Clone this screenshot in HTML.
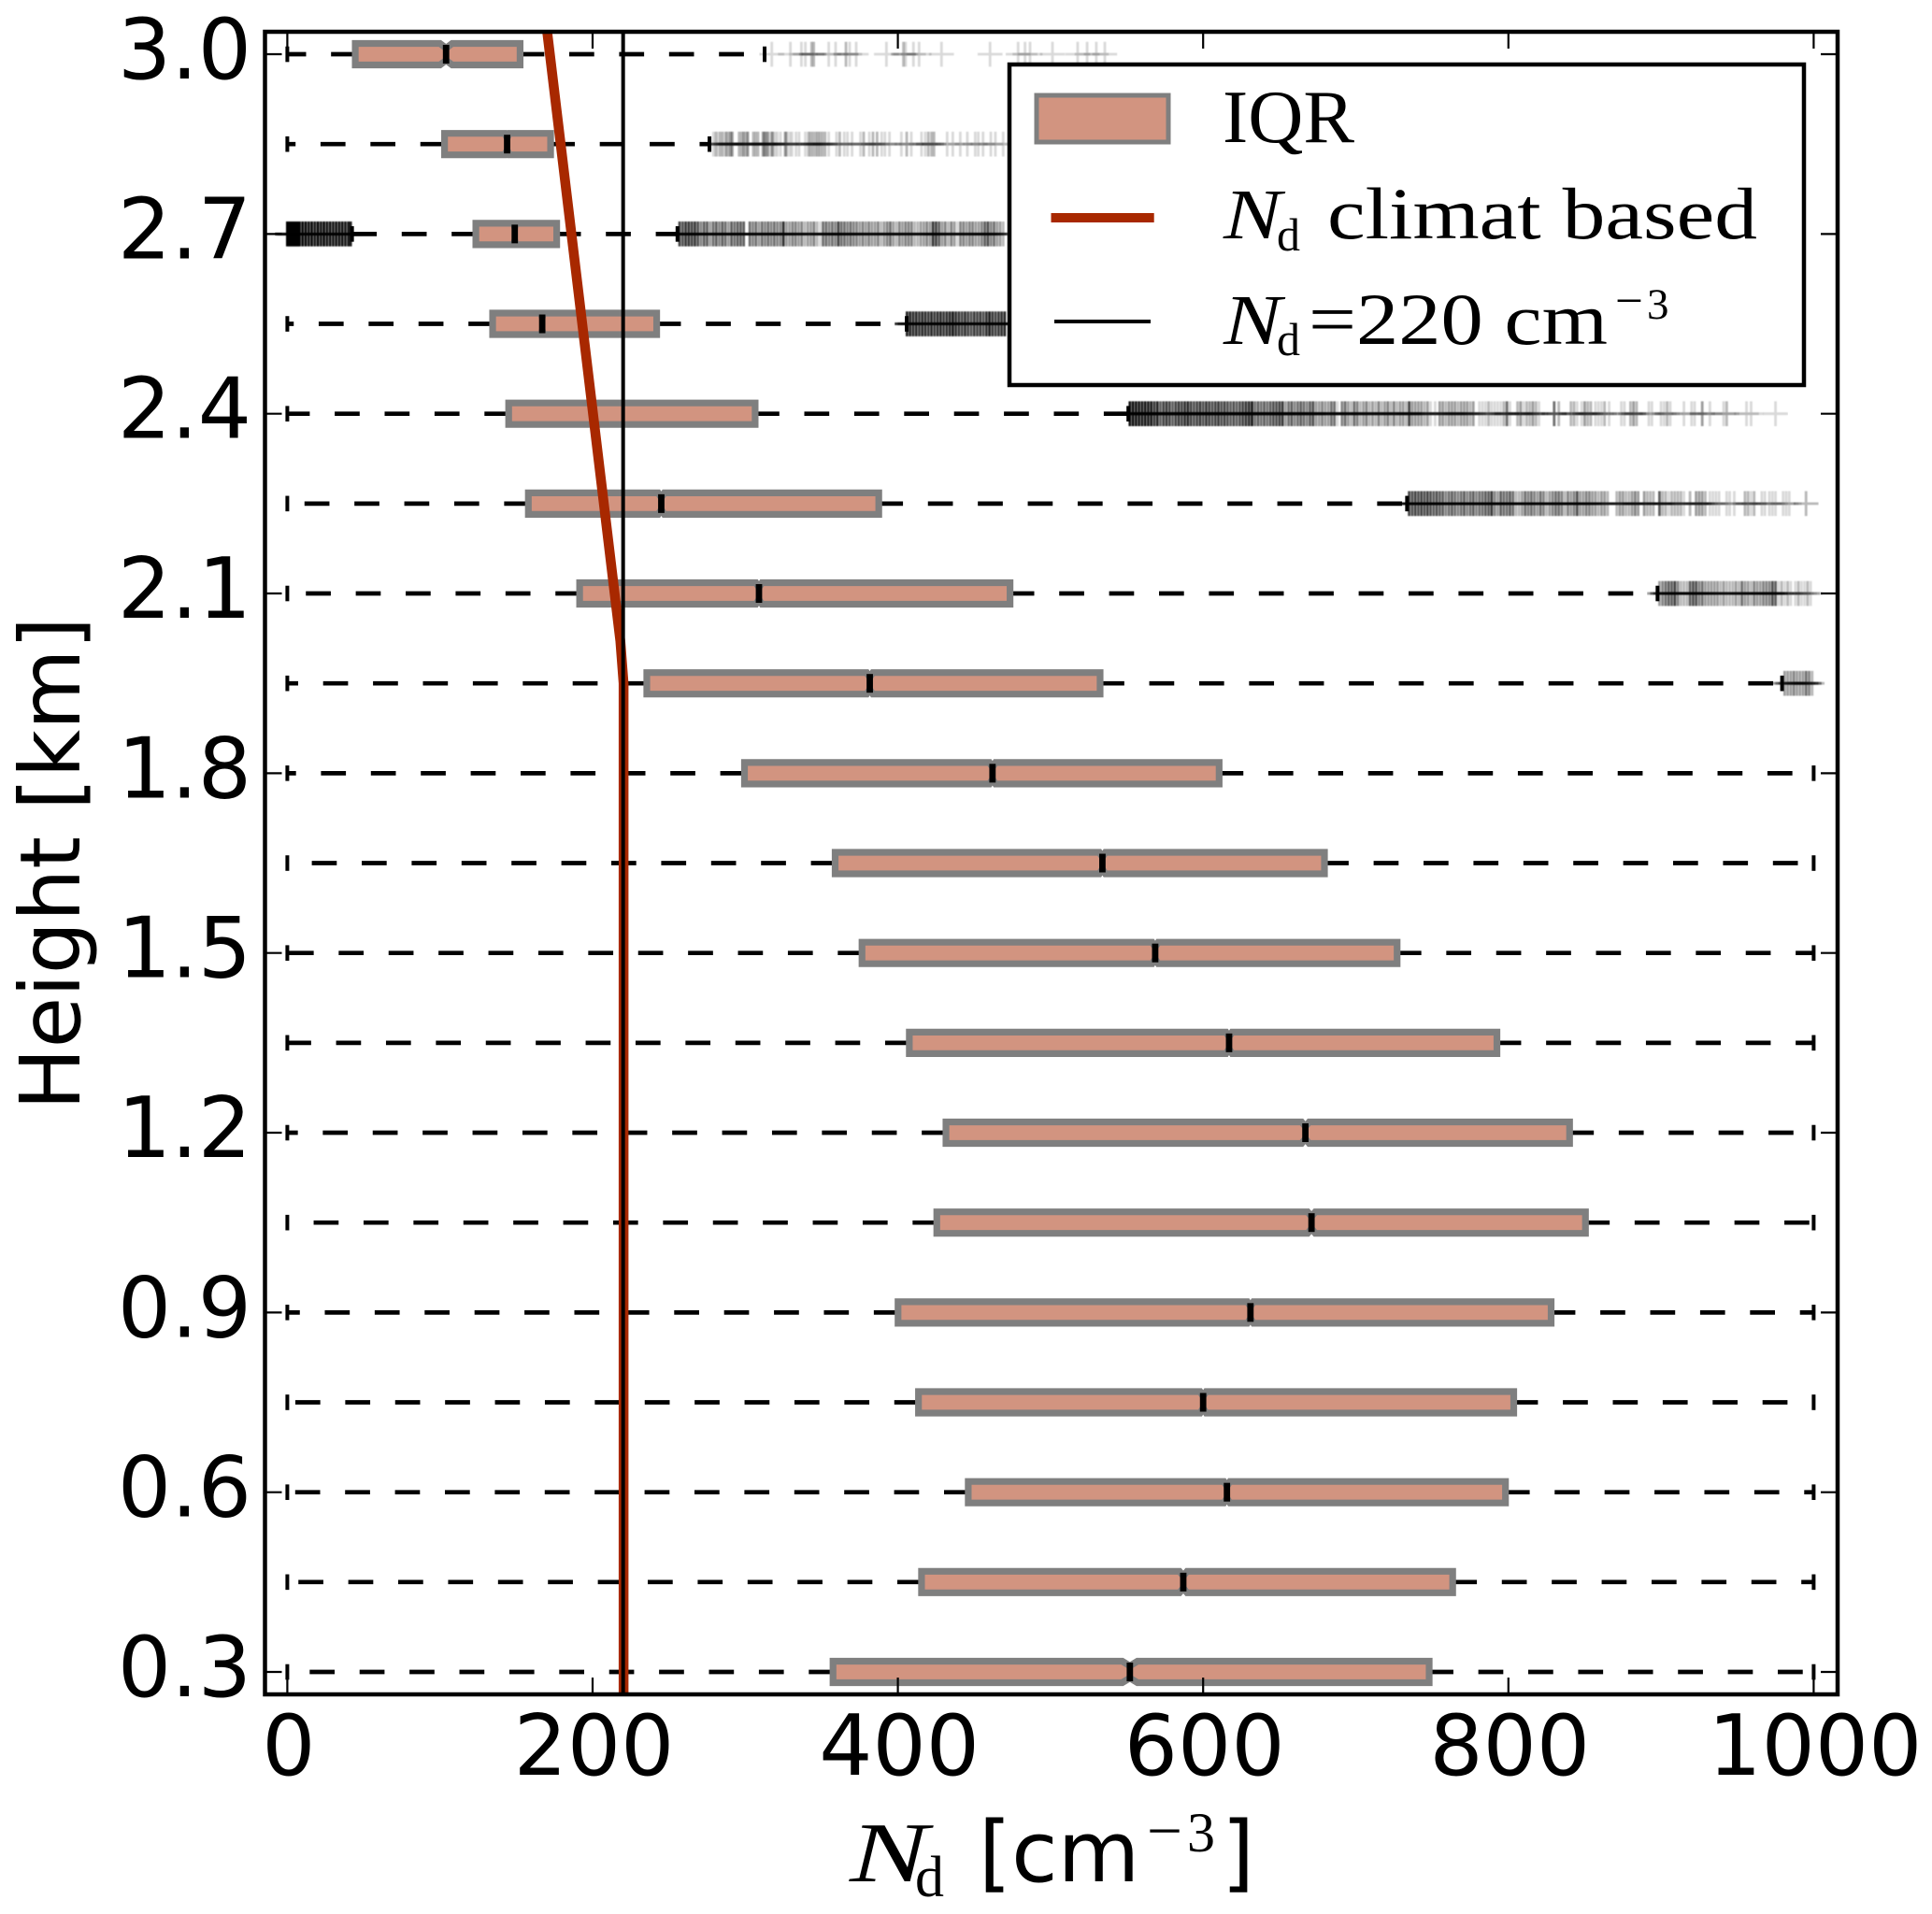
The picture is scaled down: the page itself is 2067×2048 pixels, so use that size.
<!DOCTYPE html>
<html lang="en">
<head>
<meta charset="utf-8">
<title>Nd box plot by height</title>
<style>
html,body{margin:0;padding:0;background:#fff;width:2067px;height:2048px;overflow:hidden}
svg{display:block}
.sans{font-family:"DejaVu Sans","Liberation Sans",sans-serif;fill:#000}
.serif{font-family:"Liberation Serif",serif;fill:#000}
.ital{font-family:"Liberation Serif",serif;font-style:italic;fill:#000}
</style>
</head>
<body>
<svg id="chart" xmlns="http://www.w3.org/2000/svg" width="2067" height="2048" viewBox="0 0 2067 2048">
  <rect width="2067" height="2048" fill="#fff"/>
  <defs>
    <clipPath id="plot-clip"><rect x="283.5" y="34" width="1682.5" height="1779"/></clipPath>
    <filter id="soften" x="0" y="-20%" width="100%" height="140%" filterUnits="objectBoundingBox"><feGaussianBlur stdDeviation="0.45"/></filter>
  </defs>
  <g id="marks" clip-path="url(#plot-clip)"></g>
  <g id="axes"></g>
  <text class="sans" font-size="89" transform="translate(85,1188) rotate(-90)" textLength="528" lengthAdjust="spacingAndGlyphs">Height [km]</text>
  <g>
    <text class="ital" x="909" y="2013" font-size="91" textLength="84" lengthAdjust="spacingAndGlyphs">N</text>
    <text class="serif" x="979" y="2029" font-size="62">d</text>
    <text class="sans" x="1047" y="2013" font-size="90">[cm</text>
    <text class="serif" x="1227" y="1981" font-size="66" textLength="38" lengthAdjust="spacingAndGlyphs">−</text>
    <text class="serif" x="1270" y="1981" font-size="60">3</text>
    <text class="sans" x="1307" y="2013" font-size="90">]</text>
  </g>
  <g>
    <rect x="1080" y="69" width="850" height="343" fill="#fff" stroke="#000" stroke-width="4.5"/>
    <rect x="1109" y="102" width="141" height="50" fill="#d29480" stroke="#7f7f7f" stroke-width="5"/>
    <text class="serif" x="1308" y="152" font-size="80" textLength="141" lengthAdjust="spacingAndGlyphs">IQR</text>
    <line x1="1124.5" x2="1234.7" y1="233" y2="233" stroke="#a82800" stroke-width="10"/>
    <g>
      <text class="ital" x="1309" y="255" font-size="76" textLength="62" lengthAdjust="spacingAndGlyphs">N</text>
      <text class="serif" x="1366" y="268" font-size="50">d</text>
      <text class="serif" x="1420" y="255" font-size="78" textLength="460" lengthAdjust="spacingAndGlyphs">climat based</text>
    </g>
    <line x1="1128" x2="1231" y1="344" y2="344" stroke="#000" stroke-width="4"/>
    <g>
      <text class="ital" x="1309" y="368" font-size="76" textLength="62" lengthAdjust="spacingAndGlyphs">N</text>
      <text class="serif" x="1366" y="380" font-size="50">d</text>
      <text class="serif" x="1400" y="368" font-size="78" textLength="320" lengthAdjust="spacingAndGlyphs">=220 cm</text>
      <text class="serif" x="1728" y="339" font-size="52" textLength="30" lengthAdjust="spacingAndGlyphs">−</text>
      <text class="serif" x="1762" y="341" font-size="47">3</text>
    </g>
  </g>
</svg>
<script>
const heights=[0.3,0.45,0.6,0.75,0.9,1.05,1.2,1.35,1.5,1.65,1.8,1.95,2.1,2.25,2.4,2.55,2.7,2.85,3.0];
const q1Values=[358,416,446.6,414,400.6,426,432,408,377,359.4,300,236,192,158.4,145.5,135,124,103.5,45];
const medianValues=[552,587,615.6,600,631,671,667,617,568.6,534,462,381.6,309,245,200.3,167,149,144,104];
const q3Values=[747.6,763,797.6,803,827.5,850,839.6,792,726.6,679,610,532,473,387,306,241.5,176,172,152];
const whiskerLow=[0,0,0,0,0,0,0,0,0,0,0,0,0,0,0,0,42.4,0,0];
const whiskerHigh=[1000,1000,1000,1000,1000,1000,1000,1000,1000,1000,1000,979.3,897.7,733.6,551,405.8,255.6,276.6,312.7];
const notchHalfWidth=[5,2.5,2,2,2,2.5,2.5,2,2,2,2,2,2,2,0.5,0.5,0.5,1.5,4];

const climatHeights=[0.2,1.95,2.02,3.1];
const climatValues=[220.3,220.3,218.2,167.3];
const referenceNd=220;

const xTicks=[0,200,400,600,800,1000];
const yTicks=[0.3,0.6,0.9,1.2,1.5,1.8,2.1,2.4,2.7,3.0];

const fliers3p0=[317.4,329.6,336.8,339.4,343.5,344.9,354.7,359.2,366,368.4,372.7,392.5,403.7,405.1,410.2,413.9,428.6,460.4,478.8,483.3,486.6,501.3,517.8,524,530,535.6];
const counts3p0=[1,1,1,1,2,2,1,1,2,1,1,1,2,1,1,1,1,1,1,1,1,1,1,1,1,1];

const fliers2p85=[279.2,280.8,282.3,283.7,285.3,287.4,289,290.4,291.5,296,297.6,299,300.6,301.7,305.3,306.8,308.4,311.5,312.3,313.5,314.9,317,318,319.6,321,323.1,326.2,327.2,329.2,330.6,333.3,335.3,339.4,341.5,342.9,344.5,346.2,347.6,349,350.6,352.3,354.7,359.8,361.9,364.9,367,370,375.5,377.6,381.3,383.7,386.4,389.4,391.5,394.5,402.3,405.8,408.8,415.5,418,420,422.1,423.7,432.3,436,440.9,445.5,450.7,452.7,455.8,460.9,463.9,469];
const counts2p85=[1,2,1,2,2,3,2,3,3,2,2,3,2,3,2,2,2,2,3,3,3,2,3,1,1,1,3,2,1,1,1,1,1,2,2,2,2,2,2,2,2,1,1,2,1,1,1,1,2,1,2,2,1,1,1,1,2,1,1,1,2,2,2,1,1,1,1,1,1,1,1,1,1];

const fliers2p7Low=[0,1,2,3,4,5,6,7,8,10,12,14,16,18,20,22,24,26,28,30,32,34,36,38,40,41.5];
const counts2p7Low=[30,30,30,30,30,30,30,25,25,20,20,16,20,14,20,15,20,15,16,14,16,15,16,14,14,12];

const fliers2p7=[257,259,261,263,265,267,269,271,273,275,277,279,281,283,285,287,289,291,293,295,297,299,303,305,307,309,311,313,315,317,319,321,323,325,327,329,331,333,335,337,339,341,343,345,347,349,351,353,355,357,359,361,363,365,367,369,371,373,375,377,379,381,383,385,387,389,391,393,395,397,399,401,403,405,407,409,411,413,415,417,419,421,423,425,427,429,431,433,435,437,439,441,443,445,447,449,451,453,455,457,459,461,463,465,467,469];
const counts2p7=[8,7,9,9,8,9,7,4,6,6,3,5,6,4,6,5,3,6,5,6,6,6,5,4,5,3,5,4,5,4,5,4,4,10,3,3,4,4,3,4,2,3,3,4,2,1,5,5,4,5,4,8,5,5,4,5,4,4,3,4,3,4,3,3,4,2,3,4,5,3,2,4,3,4,4,4,2,2,3,3,4,3,9,8,6,3,4,2,4,3,1,4,4,3,4,4,3,3,4,6,7,4,5,3,3,2];

const fliers2p55=[406,408,410,412,414,416,418,420,422,424,426,428,430,432,434,436,438,440,442,444,446,448,450,452,454,456,458,460,462,464,466,468,470];
const counts2p55=[12,12,10,11,9,11,10,9,11,9,10,11,9,10,11,14,10,9,8,10,8,7,9,8,9,7,10,13,9,8,9,10,11];

const fliers2p4=[552,554,556,558,560,562,564,566,568,570,572,574,576,578,580,582,584,586,588,590,592,594,596,598,600,602,604,606,608,610,612,614,616,618,620,622,624,626,628,630,632,634,636,638,640,642,644,646,648,650,652,654,656,658,660,662,664,666,668,670,672,674,676,678,680,682,684,686,688,691,693,695,697,699,701,703,705,707,709,711,713,715,717,719,721,723,725,727,729,731,733,735,737,739,741,743,745,747,749,752,755,757,759,761,763,765,767,769,771,773,775,777,781,783,785,787,789,791,793,795,797,799,801,806,808,810,812,814,816,818,820,830,833,841,843,845,848,850,852,854,857,859,861,863,866,874,876,880,882,884,892,894,900,902,904,906,915,920,922,927,932,941,943,956,959,975];
const counts2p4=[16,16,15,14,13,14,13,14,9,12,6,8,9,8,6,8,9,8,10,11,8,7,8,9,7,9,8,7,8,9,7,8,7,6,7,6,7,8,9,10,14,5,6,5,6,5,6,7,7,8,9,3,5,6,4,5,6,5,4,6,7,3,3,4,3,3,5,5,1,4,5,3,2,5,4,2,3,4,2,3,2,4,2,3,4,2,4,2,3,3,2,8,3,3,3,3,2,3,1,1,3,3,2,3,3,3,2,3,3,3,2,3,1,1,1,2,1,1,1,1,2,5,1,2,3,1,2,2,3,2,1,5,2,2,2,1,1,3,2,2,1,1,1,2,1,1,1,2,3,2,1,1,1,1,2,1,1,1,1,3,1,1,2,1,1,1];

const fliers2p25=[735,737,739,741,743,745,747,749,751,753,755,757,759,761,763,765,767,769,771,773,775,777,779,781,783,785,787,789,791,793,795,797,799,801,803,805,807,809,811,813,815,817,819,821,823,825,827,829,831,833,835,837,839,841,843,845,847,849,851,853,855,857,859,861,863,865,871,873,875,877,879,881,883,885,889,891,893,895,899,901,903,905,907,909,911,913,915,919,923,925,927,929,932,934,936,938,943,945,948,955,957,959,961,966,968,971,973,975,980,982,984,995];
const counts2p25=[8,7,8,7,8,7,8,7,6,7,6,6,4,5,6,5,4,5,6,4,5,6,4,5,5,6,6,9,4,3,6,5,5,6,5,2,2,3,5,4,5,4,3,5,4,2,3,4,5,5,4,2,4,3,4,7,3,3,4,4,3,3,2,3,3,2,2,3,3,2,2,3,4,3,3,2,2,2,6,2,2,1,2,2,2,2,1,2,3,3,3,2,1,1,1,1,1,1,1,2,2,1,2,1,1,1,1,1,1,1,1,2];

const fliers2p1=[899,901,903,905,907,909,911,913,915,917,919,921,923,925,927,929,931,933,935,937,939,941,943,945,947,949,951,953,955,957,959,961,963,965,967,969,971,973,975,977,979,981,983,985,988,990,992,994,996,998];
const counts2p1=[3,4,5,6,6,8,4,2,2,2,6,7,7,4,5,3,3,3,3,3,2,3,2,2,2,3,2,5,3,3,2,4,3,3,4,4,4,7,6,1,2,1,2,1,1,2,1,1,2,1];

const fliers1p95=[981,983,985,987,989,991,993,995,997,999];
const counts1p95=[3,3,3,4,3,3,3,5,4,2];

const SVGNS='http://www.w3.org/2000/svg';
const marksLayer=document.getElementById('marks');
const axesLayer=document.getElementById('axes');
const xScale=function(v){return 307.4+1.633*v;};
const yScale=function(h){return 1789-(h-0.3)*641.1;};

function mk(tag,parent,attrs){
  const el=document.createElementNS(SVGNS,tag);
  for(const k in attrs){el.setAttribute(k,attrs[k]);}
  parent.appendChild(el);
  return el;
}

const BOX_H=23, NOTCH_D=5;

heights.forEach(function(h,i){
  const y=yScale(h);
  const row=mk('g',marksLayer,{});
  
  

  const wl=mk('line',row,{x1:xScale(q1Values[i]),x2:xScale(whiskerLow[i]),y1:y,y2:y,stroke:'#000','stroke-width':4.7,'stroke-dasharray':'26.7 26.7'});
  
  
  const wh=mk('line',row,{x1:xScale(q3Values[i]),x2:xScale(whiskerHigh[i]),y1:y,y2:y,stroke:'#000','stroke-width':4.7,'stroke-dasharray':'26.7 26.7'});
  
  

  const cl=mk('line',row,{x1:xScale(whiskerLow[i]),x2:xScale(whiskerLow[i]),y1:y-8.3,y2:y+8.3,stroke:'#000','stroke-width':4});
  
  
  const ch=mk('line',row,{x1:xScale(whiskerHigh[i]),x2:xScale(whiskerHigh[i]),y1:y-8.3,y2:y+8.3,stroke:'#000','stroke-width':4});
  
  

  const a=xScale(q1Values[i])-0.8, b=xScale(q3Values[i])+0.8, m=xScale(medianValues[i]);
  const n=notchHalfWidth[i]*1.633;
  const t=y-BOX_H/2, u=y+BOX_H/2;
  const d='M'+a+' '+t+'L'+(m-n)+' '+t+'L'+m+' '+(t+NOTCH_D)+'L'+(m+n)+' '+t+'L'+b+' '+t+
          'L'+b+' '+u+'L'+(m+n)+' '+u+'L'+m+' '+(u-NOTCH_D)+'L'+(m-n)+' '+u+'L'+a+' '+u+'Z';
  const box=mk('path',row,{d:d,fill:'#d29480',stroke:'#7f7f7f','stroke-width':7.2,'stroke-linejoin':'miter','stroke-miterlimit':3});
  
  

  const med=mk('line',row,{x1:m,x2:m,y1:y-10,y2:y+10,stroke:'#000','stroke-width':6.8});
  
  
});

function drawFliers(h,values,counts){
  const y=yScale(h);
  const g=mk('g',marksLayer,{filter:'url(#soften)'});
  
  
  values.forEach(function(v,i){
    const c=counts[i]||1;
    const x=xScale(v);
    const p=mk('path',g,{d:'M'+x+' '+(y-13.3)+'V'+(y+13.3)+'M'+(x-13.3)+' '+y+'H'+(x+13.3),fill:'none',stroke:'#000','stroke-width':2.8,'stroke-opacity':(1-Math.pow(0.85,c)).toFixed(3)});
    
    
  });
}
drawFliers(3.0,fliers3p0,counts3p0);
drawFliers(2.85,fliers2p85,counts2p85);
drawFliers(2.7,fliers2p7Low,counts2p7Low);
drawFliers(2.7,fliers2p7,counts2p7);
drawFliers(2.55,fliers2p55,counts2p55);
drawFliers(2.4,fliers2p4,counts2p4);
drawFliers(2.25,fliers2p25,counts2p25);
drawFliers(2.1,fliers2p1,counts2p1);
drawFliers(1.95,fliers1p95,counts1p95);

const climatPoints=climatHeights.map(function(h,i){return xScale(climatValues[i])+','+yScale(h);}).join(' ');
const climatLine=mk('polyline',marksLayer,{points:climatPoints,fill:'none',stroke:'#a82800','stroke-width':10.5});



const refLine=mk('line',marksLayer,{x1:xScale(referenceNd),x2:xScale(referenceNd),y1:34,y2:1813,stroke:'#000','stroke-width':4});



xTicks.forEach(function(v){
  const x=xScale(v);
  const tb=mk('line',axesLayer,{x1:x,x2:x,y1:1813,y2:1795,stroke:'#000','stroke-width':2.2});
  
  
  const tt=mk('line',axesLayer,{x1:x,x2:x,y1:34,y2:52,stroke:'#000','stroke-width':2.2});
  
  
  const lb=mk('text',axesLayer,{x:x+1.5,y:1899,'font-size':90,'text-anchor':'middle','class':'sans'});
  
  
  lb.textContent=String(v);
});
yTicks.forEach(function(h){
  const y=yScale(h);
  const tl=mk('line',axesLayer,{x1:283.5,x2:301.5,y1:y,y2:y,stroke:'#000','stroke-width':2.2});
  
  
  const tr=mk('line',axesLayer,{x1:1966,x2:1948,y1:y,y2:y,stroke:'#000','stroke-width':2.2});
  
  
  const lb=mk('text',axesLayer,{x:269,y:y+26,'font-size':90,'text-anchor':'end','class':'sans'});
  
  
  lb.textContent=h.toFixed(1);
});
const frame=mk('rect',axesLayer,{x:283.5,y:34,width:1682.5,height:1779,fill:'none',stroke:'#000','stroke-width':4.5});


</script>
</body>
</html>
